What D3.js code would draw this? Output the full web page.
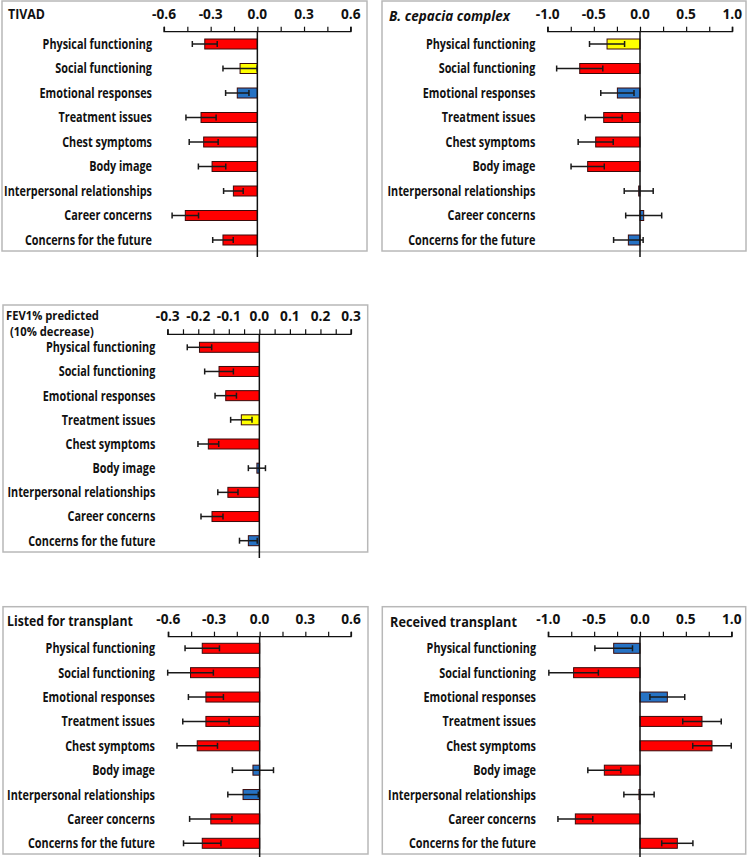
<!DOCTYPE html>
<html><head><meta charset="utf-8">
<script src="https://cdn.jsdelivr.net/npm/d3@7"></script>
<style>body{margin:0;background:#fff}svg{display:block}</style>
</head><body>
<svg id="c" width="749" height="857"></svg>
<script>
// ---------- DATA ----------
const categories = ["Physical functioning","Social functioning","Emotional responses","Treatment issues","Chest symptoms","Body image","Interpersonal relationships","Career concerns","Concerns for the future"];
const panelTitles = ["TIVAD","B. cepacia complex","FEV1% predicted|(10% decrease)","Listed for transplant","Received transplant"];
const tivadValues = [-0.338,-0.111,-0.129,-0.362,-0.345,-0.291,-0.154,-0.463,-0.221];
const tivadErrors = [0.080,0.110,0.075,0.097,0.093,0.088,0.063,0.085,0.066];
const tivadSig    = ["s","t","n","s","s","s","s","s","s"];
const cepaciaValues = [-0.357,-0.653,-0.245,-0.393,-0.480,-0.567,-0.014,0.040,-0.126];
const cepaciaErrors = [0.190,0.250,0.180,0.200,0.190,0.180,0.157,0.195,0.160];
const cepaciaSig    = ["t","s","n","s","s","s","n","n","n"];
const fevValues = [-0.196,-0.132,-0.110,-0.059,-0.167,-0.008,-0.103,-0.155,-0.036];
const fevErrors = [0.040,0.047,0.035,0.035,0.034,0.028,0.033,0.036,0.029];
const fevSig    = ["s","s","s","t","s","n","s","s","n"];
const listedValues = [-0.377,-0.454,-0.353,-0.353,-0.410,-0.044,-0.109,-0.321,-0.377];
const listedErrors = [0.113,0.150,0.115,0.152,0.133,0.135,0.100,0.139,0.123];
const listedSig    = ["s","s","s","s","s","n","n","s","s"];
const receivedValues = [-0.287,-0.724,0.298,0.676,0.785,-0.389,-0.011,-0.705,0.407];
const receivedErrors = [0.205,0.270,0.190,0.210,0.210,0.180,0.165,0.190,0.170];
const receivedSig    = ["n","s","n","s","s","s","n","s","s"];
const ticks06 = [-0.6,-0.3,0.0,0.3,0.6];
const ticks10 = [-1.0,-0.5,0.0,0.5,1.0];
const ticks03 = [-0.3,-0.2,-0.1,0.0,0.1,0.2,0.3];

// ---------- STYLE / LAYOUT ----------
const sigColor = {s:"#FF0000", t:"#FFFF00", n:"#2672C4"};
const FONT = "'Open Sans', Lato, sans-serif";
const panels = [
  {title:panelTitles[0], vals:tivadValues, errs:tivadErrors, sig:tivadSig, ticks:ticks06, minor:0.15, dom:[-0.6,0.6],
   box:[2,1,367,251], range:[164,350.7], axisY:31.7, labY:13.5, rows:[44,240], labRight:152, titleXY:[8,14], titleW:37, italic:false},
  {title:panelTitles[1], vals:cepaciaValues, errs:cepaciaErrors, sig:cepaciaSig, ticks:ticks10, minor:0.25, dom:[-1,1],
   box:[382,1,746,251], range:[547.7,732.3], axisY:31.7, labY:13.5, rows:[44,240], labRight:535.3, titleXY:[389,15], titleW:121, italic:true},
  {title:panelTitles[2], vals:fevValues, errs:fevErrors, sig:fevSig, ticks:ticks03, minor:0.05, dom:[-0.3,0.3],
   box:[3,305,367.7,552], range:[167.7,351], axisY:334.3, labY:315.7, rows:[347.3,540.7], labRight:155.3, titleXY:[6,315.5], titleW:93, italic:false},
  {title:panelTitles[3], vals:listedValues, errs:listedErrors, sig:listedSig, ticks:ticks06, minor:0.15, dom:[-0.6,0.6],
   box:[3,606.7,368,854], range:[168.3,351], axisY:636.7, labY:618, rows:[648.3,843.3], labRight:155, titleXY:[7,621], titleW:126, italic:false},
  {title:panelTitles[4], vals:receivedValues, errs:receivedErrors, sig:receivedSig, ticks:ticks10, minor:0.25, dom:[-1,1],
   box:[382.3,606.7,745.7,854], range:[548.3,731.7], axisY:636.7, labY:618, rows:[648.3,843.3], labRight:536, titleXY:[390,621], titleW:127, italic:false}
];

const svg = d3.select("#c");

function measure(str, size, style){
  const t = svg.append("text").attr("font-family",FONT).attr("font-size",size)
    .attr("font-weight",700).attr("font-style",style||"normal").text(str);
  const w = t.node().getComputedTextLength(); t.remove(); return w;
}
const LAB_SIZE = 13.5;
const labSX = 148 / measure("Interpersonal relationships", LAB_SIZE);
const TICK_SIZE = 14.5;
const tickSX = 24 / measure("-0.6", TICK_SIZE);
const TITLE_SIZE = 14.5;

function sText(g, str, x, y, size, sx, anchor, italic){
  return g.append("text")
    .attr("transform",`translate(${x},${y}) scale(${sx},1)`)
    .attr("font-family",FONT).attr("font-size",size).attr("font-weight",700)
    .attr("font-style", italic ? "italic" : "normal")
    .attr("text-anchor",anchor).attr("dominant-baseline","central")
    .attr("fill","#111").text(str);
}

panels.forEach(p => {
  const g = svg.append("g");
  const [x0,y0,x1,y1] = p.box;
  g.append("rect").attr("x",x0).attr("y",y0).attr("width",x1-x0).attr("height",y1-y0)
    .attr("fill","none").attr("stroke","#b8b8b8").attr("stroke-width",1.5);

  const x = d3.scaleLinear().domain(p.dom).range(p.range);
  const y = d3.scalePoint().domain(categories).range(p.rows);

  const minorTicks = d3.range(p.dom[0], p.dom[1] + p.minor/2, p.minor).map(v => +v.toFixed(4));
  const ax = g.append("g").attr("transform",`translate(0,${p.axisY})`)
    .call(d3.axisTop(x).tickValues(minorTicks).tickSize(5).tickFormat(""));
  ax.select(".domain").attr("stroke","#111").attr("stroke-width",1.3).attr("d",`M${p.range[0]},-5V0H${p.range[1]}V-5`);
  ax.selectAll(".tick line").attr("stroke","#111").attr("stroke-width",1.2);
  p.ticks.forEach(v => sText(g, v.toFixed(1), x(v), p.labY, TICK_SIZE, tickSX, "middle"));

  const bh = 10;
  g.selectAll("rect.bar").data(p.vals).enter().append("rect")
    .attr("class","bar")
    .attr("x",(d)=>Math.min(x(0),x(d)))
    .attr("width",(d)=>Math.max(0.8,Math.abs(x(d)-x(0))))
    .attr("y",(d,i)=>y(categories[i])-bh/2).attr("height",bh)
    .attr("fill",(d,i)=>sigColor[p.sig[i]])
    .attr("stroke","#3a0a0a").attr("stroke-width",1);

  p.vals.forEach((v,i) => {
    const cy = y(categories[i]);
    const lo = x(v - p.errs[i]), hi = x(v + p.errs[i]);
    g.append("line").attr("x1",lo).attr("x2",hi).attr("y1",cy).attr("y2",cy).attr("stroke","#1a1a1a").attr("stroke-width",1.5);
    [lo,hi].forEach(xx => g.append("line").attr("x1",xx).attr("x2",xx).attr("y1",cy-3).attr("y2",cy+3).attr("stroke","#1a1a1a").attr("stroke-width",1.5));
  });

  g.append("line").attr("x1",x(0)).attr("x2",x(0)).attr("y1",p.axisY).attr("y2",Math.min(857,y1+6))
    .attr("stroke","#111").attr("stroke-width",1.5);

  categories.forEach(c => sText(g, c, p.labRight, y(c), LAB_SIZE, labSX, "end"));

  const lines = p.title.split("|");
  if (lines.length === 1) {
    const sx = p.titleW / measure(lines[0], TITLE_SIZE, p.italic ? "italic" : "normal");
    sText(g, lines[0], p.titleXY[0], p.titleXY[1], TITLE_SIZE, sx, "start", p.italic);
  } else {
    const fs = 11.5;
    const sx = p.titleW / measure(lines[0], fs);
    sText(g, lines[0], p.titleXY[0], p.titleXY[1], fs, sx, "start");
    sText(g, lines[1], p.titleXY[0]+4, p.titleXY[1]+16.3, fs, sx, "start");
  }
});
</script>
</body></html>
